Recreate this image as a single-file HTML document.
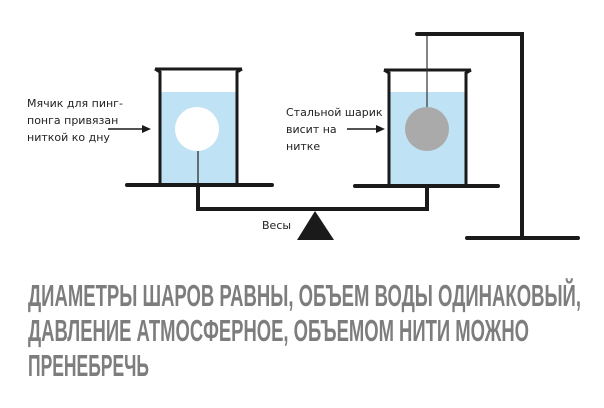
<!DOCTYPE html>
<html><head><meta charset="utf-8"><style>
html,body{margin:0;padding:0;background:#fff;}
svg{display:block;}
</style></head><body>
<svg width="604" height="408" viewBox="0 0 604 408" xmlns="http://www.w3.org/2000/svg">
<!-- left beaker -->
<rect x="159" y="92" width="79" height="92" fill="#bfe2f5"/>
<path d="M155 69 L160 72 L160 184 M242 69 L237 72 L237 184" stroke="#1a1a1a" stroke-width="3" fill="none"/>
<line x1="155" y1="69" x2="242" y2="69" stroke="#1a1a1a" stroke-width="3"/>
<circle cx="197" cy="129" r="22" fill="#fff"/>
<line x1="198" y1="151" x2="198" y2="186" stroke="#222" stroke-width="1.2"/>
<line x1="127" y1="185" x2="272" y2="185" stroke="#1a1a1a" stroke-width="4" stroke-linecap="round"/>
<!-- right beaker -->
<rect x="388" y="92" width="79" height="92" fill="#bfe2f5"/>
<path d="M384 70 L389 73 L389 184 M471 70 L466 73 L466 184" stroke="#1a1a1a" stroke-width="3" fill="none"/>
<line x1="384" y1="70" x2="471" y2="70" stroke="#1a1a1a" stroke-width="3"/>
<circle cx="427" cy="129" r="22" fill="#aaaaaa"/>
<line x1="427" y1="34" x2="427" y2="107" stroke="#333" stroke-width="1.2"/>
<line x1="355" y1="186" x2="498" y2="186" stroke="#1a1a1a" stroke-width="4" stroke-linecap="round"/>
<!-- beam -->
<path d="M198 185 L198 209 L427 209 L427 186" stroke="#1a1a1a" stroke-width="4" fill="none"/>
<polygon points="315,211 297,240 334,240" fill="#1a1a1a"/>
<!-- stand -->
<path d="M417 34 L522 34 L522 238 M467 238 L578 238" stroke="#1a1a1a" stroke-width="4" fill="none" stroke-linecap="round"/>
<!-- arrows -->
<line x1="108" y1="129" x2="143" y2="129" stroke="#1a1a1a" stroke-width="1.5"/>
<polygon points="151,129 142,125 142,133" fill="#1a1a1a"/>
<line x1="347" y1="129" x2="377" y2="129" stroke="#1a1a1a" stroke-width="1.5"/>
<polygon points="385,129 376,125 376,133" fill="#1a1a1a"/>
<g font-family="'DejaVu Sans','Liberation Sans',sans-serif" font-size="11" fill="#222">
<text x="27" y="107">Мячик для пинг-</text>
<text x="27" y="124">понга привязан</text>
<text x="27" y="141">ниткой ко дну</text>
<text x="286" y="116">Стальной шарик</text>
<text x="286" y="133">висит на</text>
<text x="286" y="150">нитке</text>
<text x="262" y="229">Весы</text>
</g>
<g font-family="'Liberation Sans Narrow','Liberation Sans',sans-serif" font-weight="bold" font-size="31" fill="#7d7d7d">
<text x="28" y="306" textLength="553" lengthAdjust="spacingAndGlyphs">ДИАМЕТРЫ ШАРОВ РАВНЫ, ОБЪЕМ ВОДЫ ОДИНАКОВЫЙ,</text>
<text x="28" y="341" textLength="501" lengthAdjust="spacingAndGlyphs">ДАВЛЕНИЕ АТМОСФЕРНОЕ, ОБЪЕМОМ НИТИ МОЖНО</text>
<text x="28" y="376" textLength="121" lengthAdjust="spacingAndGlyphs">ПРЕНЕБРЕЧЬ</text>
</g>
</svg>
</body></html>
